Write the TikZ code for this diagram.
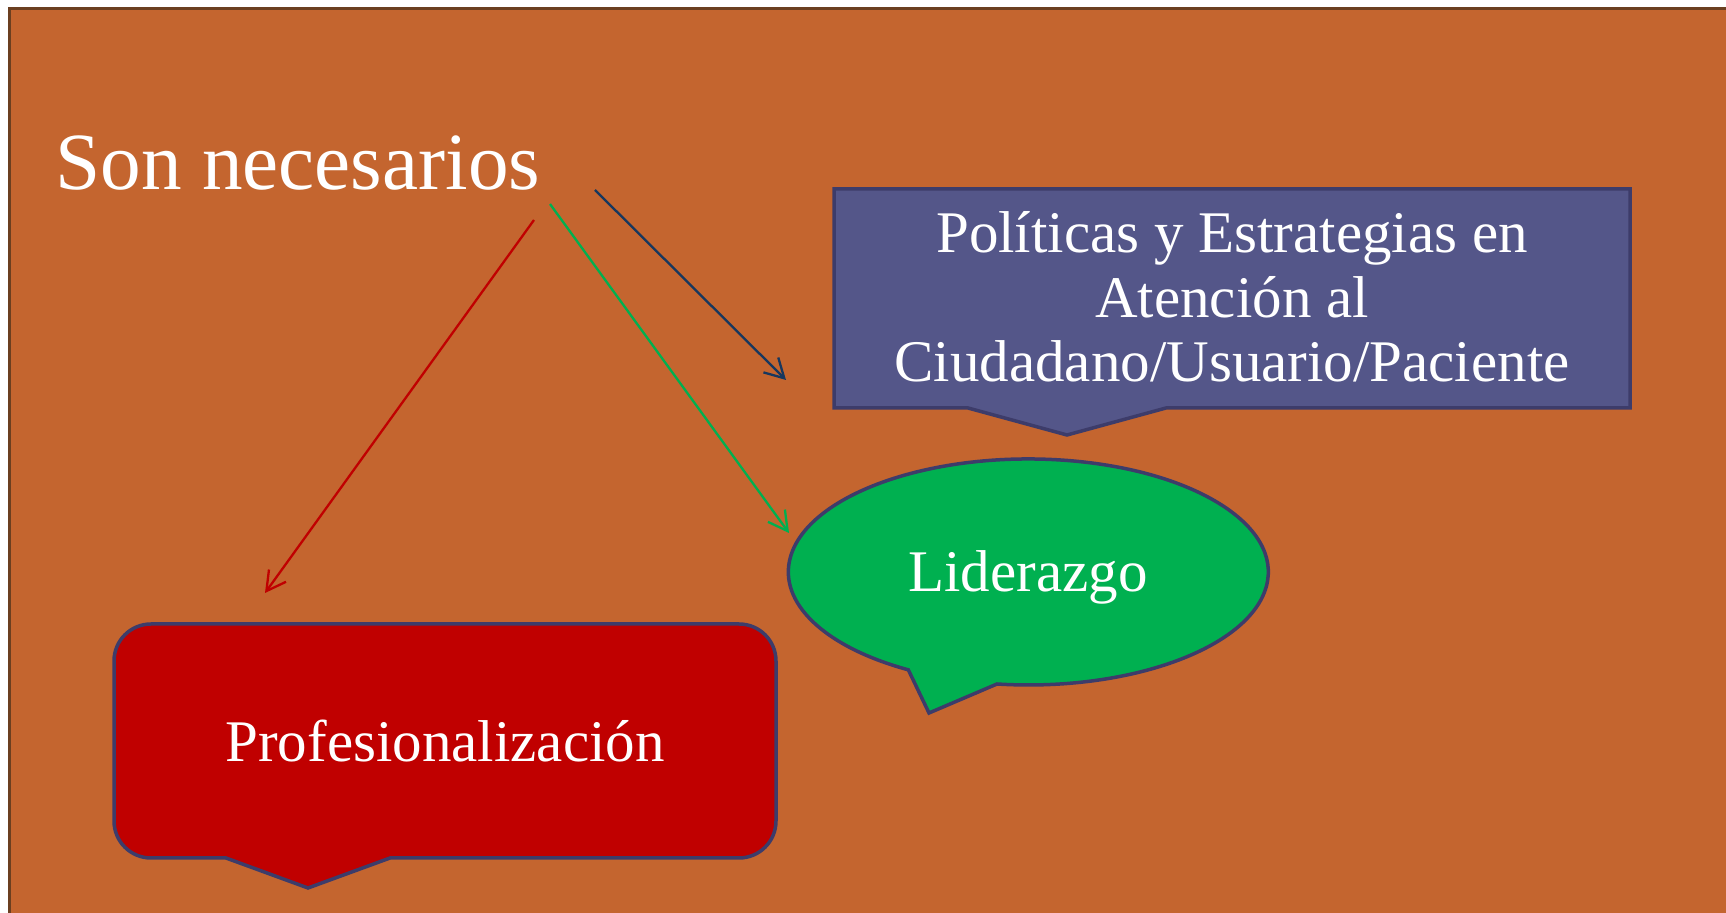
\documentclass[tikz,border=0pt]{standalone}
\usepackage{fontspec}
\setmainfont{Liberation Serif}
\usetikzlibrary{arrows.meta}
\definecolor{bgbrown}{HTML}{C4652F}
\definecolor{framebrown}{HTML}{6B3F20}
\definecolor{polblue}{HTML}{545689}
\definecolor{lidgreen}{HTML}{00B050}
\definecolor{profred}{HTML}{C00000}
\definecolor{outl}{HTML}{3D3C6A}
\definecolor{navyarrow}{HTML}{17375E}
\begin{document}
\begin{tikzpicture}[x=0.5pt,y=-0.5pt,
  shapeline/.style={draw=outl, line width=1.75pt, line join=miter},
  lbl/.style={text=white, inner sep=0pt, anchor=base, font=\fontsize{29.5pt}{32pt}\selectfont},
  arr/.style={line width=1.15pt, -{Straight Barb[length=9.5pt,width=10.5pt]}}]
\useasboundingbox (0,0) rectangle (1726,913);
\clip (0,0) rectangle (1726,913);
\fill[white] (0,0) rectangle (1726,913);
\draw[fill=bgbrown, draw=framebrown, line width=1.5pt] (9,9) rectangle (1760,940);

% blue callout
\draw[shapeline, fill=polblue] (834,189) -- (1630,189) -- (1630,408) -- (1166,408) -- (1067,435) -- (968,408) -- (834,408) -- cycle;

% green ellipse callout
\draw[shapeline, fill=lidgreen] (997,684) arc[start angle=97.5, end angle=-240, x radius=240, y radius=113] -- (929,713) -- cycle;

% red rounded callout
\draw[shapeline, fill=profred] (390,858) -- (739,858) arc[start angle=90, end angle=0, radius=37]
  -- (776,661) arc[start angle=0, end angle=-90, radius=37]
  -- (151,624) arc[start angle=-90, end angle=-180, radius=37]
  -- (114,821) arc[start angle=180, end angle=90, radius=37]
  -- (226,858) -- (308,888) -- cycle;

% texts
\node[lbl, font=\fontsize{40.6pt}{44pt}\selectfont, anchor=base west] (son) at (55,190) {Son necesarios};
\node[lbl] (pol1) at (1232,253) {Políticas y Estrategias en};
\node[lbl] (pol2) at (1232,318) {Atención al};
\node[lbl] (pol3) at (1232,382) {Ciudadano/Usuario/Paciente};
\node[lbl] (lid) at (1028,592) {Liderazgo};
\node[lbl] (prof) at (445,762) {Profesionalización};

% arrows
\coordinate (rA) at (534,220);
\coordinate (rB) at (265,593);
\coordinate (gA) at (550,204);
\coordinate (gB) at (789,533);
\coordinate (nA) at (595,190);
\coordinate (nB) at (786,380);
\draw[arr, profred] (rA) -- (rB);
\draw[arr, lidgreen] (gA) -- (gB);
\draw[arr, navyarrow] (nA) -- (nB);
\end{tikzpicture}
\end{document}
